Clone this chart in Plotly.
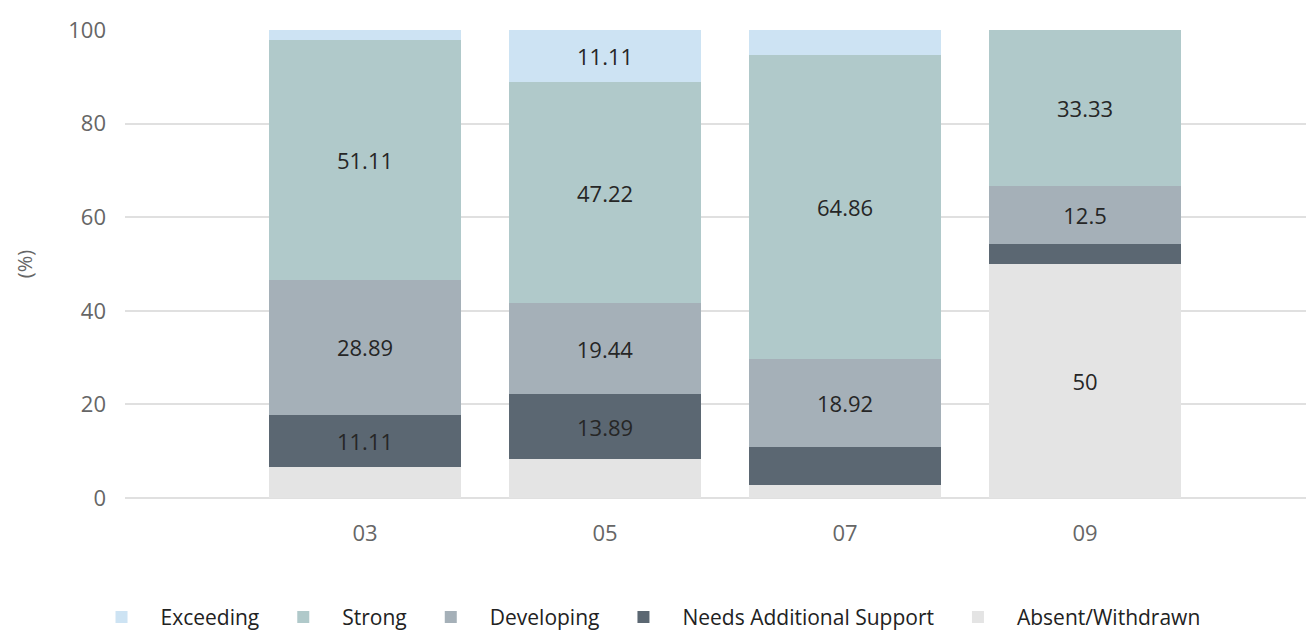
import plotly.graph_objects as go

categories = ["03", "05", "07", "09"]
exceeding = [2.22, 11.11, 5.41, 0]
strong = [51.11, 47.22, 64.86, 33.33]
developing = [28.89, 19.44, 18.92, 12.5]
needs_support = [11.11, 13.89, 8.11, 4.17]
absent = [6.67, 8.33, 2.70, 50]

series = [
    ("Exceeding", exceeding, "#cde3f3"),
    ("Strong", strong, "#b0c9ca"),
    ("Developing", developing, "#a5b0b8"),
    ("Needs Additional Support", needs_support, "#5b6772"),
    ("Absent/Withdrawn", absent, "#e4e4e4"),
]

FONT = "Open Sans"
fig = go.Figure()
# stack from bottom: Absent first
for name, vals, color in reversed(series):
    txt = [(f"{v:g}" if v >= 10 else "") for v in vals]
    fig.add_trace(go.Bar(
        name=name, x=categories, y=vals, marker_color=color, marker_line_width=0,
        text=txt, textposition="inside", insidetextanchor="middle", textangle=0,
        constraintext="none",
        textfont=dict(family=FONT, size=22, color="#262626"),
        hoverinfo="x+y+name",
    ))

fig.update_layout(
    barmode="stack",
    bargap=0.2,
    width=1306, height=623,
    margin=dict(l=117, r=0, t=22, b=133, autoexpand=False),
    plot_bgcolor="white", paper_bgcolor="white",
    font=dict(family=FONT, color="#333"),
    legend=dict(orientation="h", traceorder="reversed", xref="container", yref="container",
                x=0.487, xanchor="center", y=0.022, yanchor="middle",
                font=dict(family=FONT, size=21, color="#222"), itemwidth=68),
    xaxis=dict(type="category", range=[-1, 3.954], showgrid=False, ticks="",
               tickfont=dict(family=FONT, size=22, color="#666"), ticklabelstandoff=20,
               showline=False, zeroline=False),
    yaxis=dict(range=[0, 100], dtick=20, gridcolor="#e0e0e0", gridwidth=1.5,
               tickfont=dict(family=FONT, size=22, color="#666"), ticklabelstandoff=18,
               zeroline=True, zerolinecolor="#e0e0e0", zerolinewidth=1.5, automargin=False,
               title=dict(text="(%)", font=dict(family=FONT, size=20, color="#666"), standoff=30)),
)

fig.write_html("out.html")
